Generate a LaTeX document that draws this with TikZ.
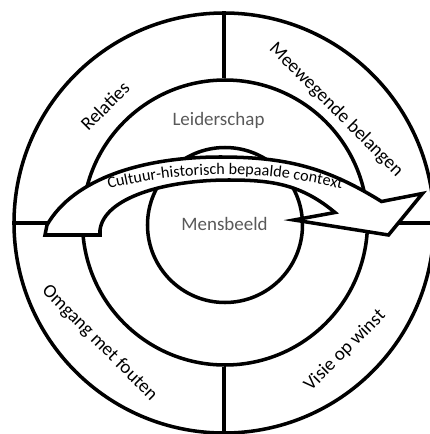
\documentclass[tikz,border=0pt]{standalone}
\usepackage{fontspec}
\setmainfont{Carlito}
\usetikzlibrary{decorations.text}
\begin{document}
\begin{tikzpicture}[line width=2pt,
    ring/.style={draw, circle, inner sep=0pt},
    lbl/.style={font=\fontsize{10.8}{13}\selectfont},
    core/.style={lbl, text=black!65, anchor=base}]
    \useasboundingbox (-4.48,-4.22) rectangle (4.12,4.46);
    \clip (-4.48,-4.22) rectangle (4.12,4.46);
    % rings
    \node (outer) [ring, minimum size=8.4cm] at (0,0) {};
    \node (middle) [ring, minimum size=5.7cm] at (0.02,0.01) {};
    \node (inner) [ring, minimum size=3.1cm] at (0.02,-0.04) {};
    \draw (outer.north) -- (outer.north |- middle.north);
    \draw (outer.south) -- (outer.south |- middle.south);
    \draw (outer.west) -- (outer.west -| middle.west);
    \draw (outer.east) -- (outer.east -| middle.east);
    % outer ring
    \node (relaties) [lbl, rotate=45] at (-2.38,2.34) {Relaties};
    \node (belangen) [lbl, rotate=-45] at (2.24,2.26) {Meewegende belangen};
    \node (fouten) [lbl, rotate=-45] at (-2.49,-2.4) {Omgang met fouten};
    \node (winst) [lbl, rotate=45] at (2.42,-2.55) {Visie op winst};
    \node (leider) [core] at (-0.11,1.96) {Leiderschap};
    \node (mens) [core] at (0.01,-0.14) {Mensbeeld};
    % context arrow
    \draw[fill=white] (-3.58,-0.24) -- (-3.54,-0.04)
        .. controls (-3.0,0.9) and (-1.6,1.32) .. (-0.08,1.32)
        .. controls (1.23,1.32) and (2.04,1.12) .. (3.15,0.43)
        -- (3.97,0.59) -- (3.29,-0.24) -- (1.4,0.06) -- (2.22,0.21)
        .. controls (1.55,0.77) and (0.97,0.86) .. (0.1,0.86)
        .. controls (-1.2,0.86) and (-2.4,0.5) .. (-2.48,-0.14)
        -- (-2.48,-0.24) -- cycle;
    \path[decorate, decoration={text along path, text align=center,
        text={|\fontsize{9.2}{11}\selectfont|Cultuur-historisch bepaalde context}}]
        (-2.78,0.55) arc[start angle=107, end angle=73, radius=9.59];
\end{tikzpicture}
\end{document}
